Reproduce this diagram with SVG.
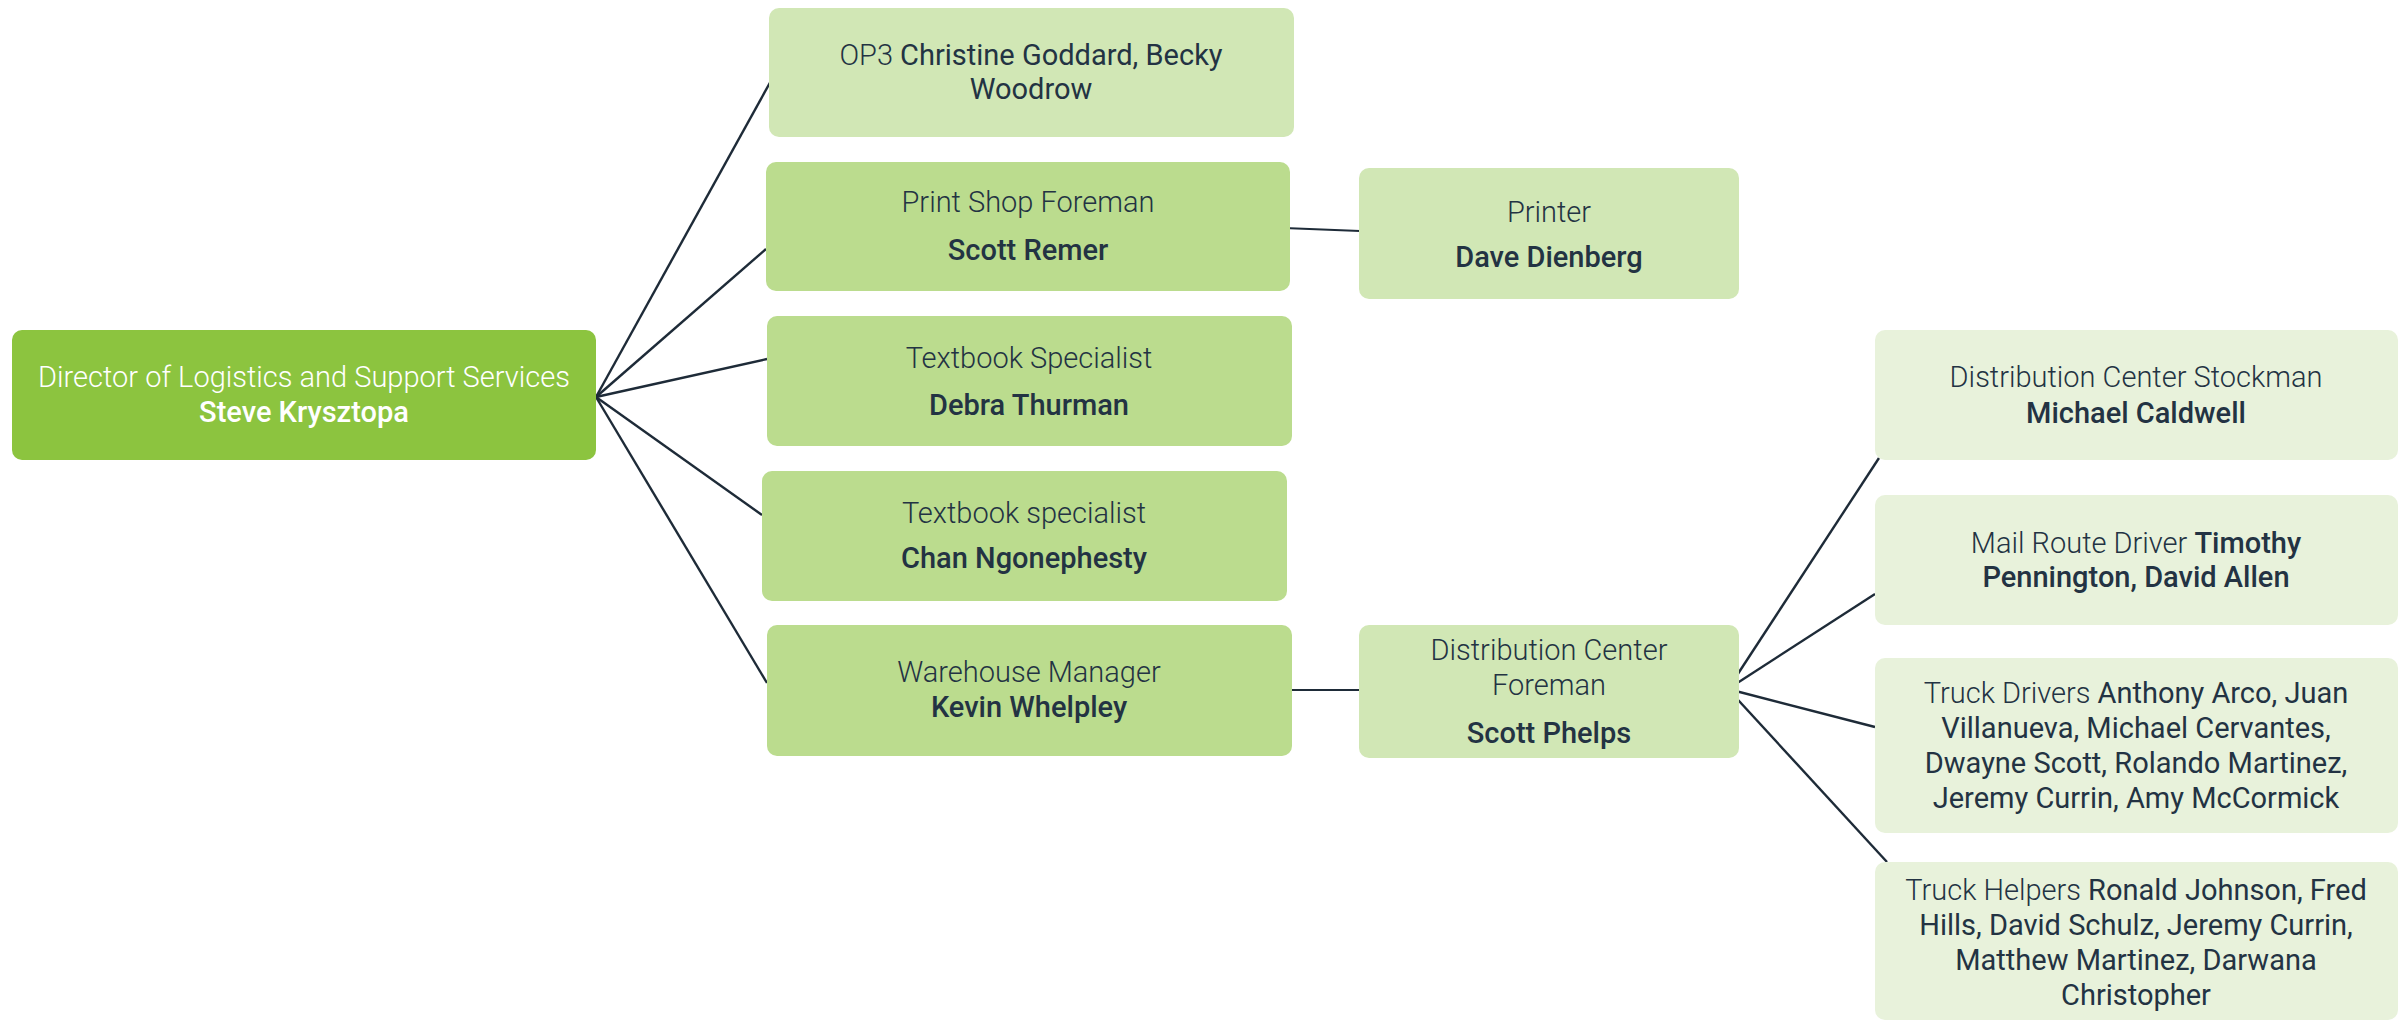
<svg xmlns="http://www.w3.org/2000/svg" width="2408" height="1022" viewBox="0 0 2408 1022">
<style>
.b0{fill:#8cc43f}
.b1{fill:#bbdc8e}
.b2{fill:#d1e7b5}
.b3{fill:#e8f2db}
text{font-family:Roboto,"Liberation Sans",sans-serif;font-size:29px;text-anchor:middle;fill:#233343}
.t{font-weight:300}
.n{font-weight:500}
.r{font-weight:400}
.w{fill:#ffffff}
.c{stroke:#1e2b38;stroke-width:2.4;fill:none}
</style>
<rect width="2408" height="1022" fill="#ffffff"/>
<g id="connectors">
<line class="c" x1="596" y1="397" x2="772" y2="79"/>
<line class="c" x1="596" y1="397" x2="766" y2="249"/>
<line class="c" x1="596" y1="397" x2="767" y2="359"/>
<line class="c" x1="596" y1="397" x2="762" y2="515"/>
<line class="c" x1="596" y1="397" x2="767" y2="683"/>
<line class="c" x1="1284" y1="228" x2="1360" y2="231" style="stroke-width:1.8"/>
<line class="c" x1="1292" y1="690" x2="1360" y2="690" style="stroke-width:1.8"/>
<line class="c" x1="1728" y1="689" x2="1879" y2="458"/>
<line class="c" x1="1728" y1="689" x2="1875" y2="594"/>
<line class="c" x1="1728" y1="689" x2="1875" y2="727"/>
<line class="c" x1="1728" y1="689" x2="1887" y2="862"/>
</g>
<g id="root">
<rect class="b0" x="12" y="330" width="584" height="130" rx="10"/>
<text x="304" y="387"><tspan class="t w">Director of Logistics and Support Services</tspan></text>
<text x="304" y="422" class="n w">Steve Krysztopa</text>
</g>
<g id="op3">
<rect class="b2" x="769" y="8" width="525" height="129" rx="10"/>
<text x="1031" y="65"><tspan class="t">OP3 </tspan><tspan class="r">Christine Goddard, Becky</tspan></text>
<text x="1031" y="99" class="r">Woodrow</text>
</g>
<g id="print-shop">
<rect class="b1" x="766" y="162" width="524" height="129" rx="10"/>
<text x="1028" y="212" class="t">Print Shop Foreman</text>
<text x="1028" y="260" class="n">Scott Remer</text>
</g>
<g id="printer">
<rect class="b2" x="1359" y="168" width="380" height="131" rx="10"/>
<text x="1549" y="222" class="t">Printer</text>
<text x="1549" y="267" class="n">Dave Dienberg</text>
</g>
<g id="textbook-1">
<rect class="b1" x="767" y="316" width="525" height="130" rx="10"/>
<text x="1029" y="368" class="t">Textbook Specialist</text>
<text x="1029" y="415" class="n">Debra Thurman</text>
</g>
<g id="textbook-2">
<rect class="b1" x="762" y="471" width="525" height="130" rx="10"/>
<text x="1024" y="523" class="t">Textbook specialist</text>
<text x="1024" y="568" class="n">Chan Ngonephesty</text>
</g>
<g id="warehouse">
<rect class="b1" x="767" y="625" width="525" height="131" rx="10"/>
<text x="1029" y="682" class="t">Warehouse Manager</text>
<text x="1029" y="717" class="n">Kevin Whelpley</text>
</g>
<g id="dc-foreman">
<rect class="b2" x="1359" y="625" width="380" height="133" rx="10"/>
<text x="1549" y="660" class="t">Distribution Center</text>
<text x="1549" y="695" class="t">Foreman</text>
<text x="1549" y="743" class="n">Scott Phelps</text>
</g>
<g id="dc-stockman">
<rect class="b3" x="1875" y="330" width="523" height="130" rx="10"/>
<text x="2136" y="387" class="t">Distribution Center Stockman</text>
<text x="2136" y="423" class="n">Michael Caldwell</text>
</g>
<g id="mail-route">
<rect class="b3" x="1875" y="495" width="523" height="130" rx="10"/>
<text x="2136" y="553"><tspan class="t">Mail Route Driver </tspan><tspan class="n">Timothy</tspan></text>
<text x="2136" y="587" class="n">Pennington, David Allen</text>
</g>
<g id="truck-drivers">
<rect class="b3" x="1875" y="658" width="523" height="175" rx="10"/>
<text x="2136" y="703"><tspan class="t">Truck Drivers </tspan><tspan class="r">Anthony Arco, Juan</tspan></text>
<text x="2136" y="738" class="r">Villanueva, Michael Cervantes,</text>
<text x="2136" y="773" class="r">Dwayne Scott, Rolando Martinez,</text>
<text x="2136" y="808" class="r">Jeremy Currin, Amy McCormick</text>
</g>
<g id="truck-helpers">
<rect class="b3" x="1875" y="862" width="523" height="158" rx="10"/>
<text x="2136" y="900"><tspan class="t">Truck Helpers </tspan><tspan class="r">Ronald Johnson, Fred</tspan></text>
<text x="2136" y="935" class="r">Hills, David Schulz, Jeremy Currin,</text>
<text x="2136" y="970" class="r">Matthew Martinez, Darwana</text>
<text x="2136" y="1005" class="r">Christopher</text>
</g>
</svg>
